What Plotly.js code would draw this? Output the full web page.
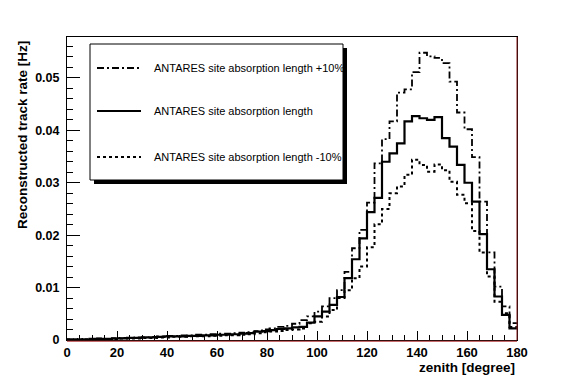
<!DOCTYPE html>
<html>
<head>
<meta charset="utf-8">
<script src="https://cdn.plot.ly/plotly-3.0.1.min.js"></script>
<style>html,body{margin:0;padding:0;background:#fff;}#chart{width:564px;height:377px;}</style>
</head>
<body>
<div id="chart"></div>
<script>
// Histogram binning: 60 bins of 3 degrees over zenith 0..180
const binWidth = 3;
const nBins = 60;

const seriesNames = [
  "ANTARES site absorption length +10%",
  "ANTARES site absorption length",
  "ANTARES site absorption length -10%"
];

// Reconstructed track rate [Hz] per 3-degree zenith bin
const ratePlus10 = [
  0.0001,0.0002,0.0001,0.0002,0.0003,0.0002,0.0003,0.0004,0.0004,0.0005,0.0005,0.0006,
  0.0007,0.0008,0.0008,0.0009,0.0009,0.0010,0.0010,0.0011,0.0012,0.0012,0.0013,0.0014,
  0.0015,0.0017,0.0020,0.0022,0.0025,0.0027,0.0031,
  0.0038,0.0045,0.0054,0.0064,0.0080,0.0095,0.0130,0.0175,0.0210,0.0262,0.0337,0.0383,
  0.0417,0.0472,0.0478,0.0511,0.0548,0.0541,0.0538,0.0528,0.0493,0.0434,0.0402,0.0349,
  0.0264,0.0167,0.0102,0.0064,0.0032
];
const rateNominal = [
  0.0001,0.0001,0.0001,0.0002,0.0002,0.0002,0.0003,0.0003,0.0004,0.0004,0.0005,0.0005,
  0.0006,0.0007,0.0007,0.0007,0.0008,0.0008,0.0009,0.0009,0.0010,0.0010,0.0011,0.0012,
  0.0013,0.0016,0.0017,0.0019,0.0021,0.0022,0.0024,
  0.0025,0.0033,0.0045,0.0054,0.0067,0.0082,0.0118,0.0154,0.0194,0.0244,0.0271,0.0340,
  0.0356,0.0375,0.0417,0.0427,0.0423,0.0420,0.0425,0.0385,0.0369,0.0334,0.0300,0.0264,
  0.0202,0.0135,0.0083,0.0048,0.0022
];
const rateMinus10 = [
  0.0001,0.0001,0.0001,0.0001,0.0002,0.0002,0.0002,0.0003,0.0003,0.0003,0.0004,0.0004,
  0.0005,0.0005,0.0006,0.0006,0.0007,0.0007,0.0007,0.0008,0.0008,0.0009,0.0009,0.0010,
  0.0011,0.0013,0.0015,0.0016,0.0017,0.0019,0.0020,
  0.0022,0.0032,0.0035,0.0045,0.0057,0.0080,0.0095,0.0118,0.0140,0.0177,0.0221,0.0250,
  0.0280,0.0293,0.0315,0.0344,0.0334,0.0321,0.0335,0.0324,0.0302,0.0277,0.0261,0.0208,
  0.0167,0.0121,0.0073,0.0051,0.0025
];

const xTickVals = [0,20,40,60,80,100,120,140,160,180];
const yTickVals = [0,0.01,0.02,0.03,0.04,0.05];
const yTickText = ["0","0.01","0.02","0.03","0.04","0.05"];

const edges = [];
for (let i = 0; i <= nBins; i++) edges.push(i * binWidth);

const styles = [
  {dash: "7px,3px,2px,3px", width: 1.8},
  {dash: "solid", width: 2.2},
  {dash: "3px,3px", width: 2}
];
const allRates = [ratePlus10, rateNominal, rateMinus10];

const traces = allRates.map((vals, k) => ({
  type: "scatter",
  mode: "lines",
  name: seriesNames[k],
  x: edges,
  y: vals.concat([vals[vals.length - 1]]),
  line: {shape: "hv", color: "#000", width: styles[k].width, dash: styles[k].dash},
  showlegend: false,
  hoverinfo: "skip"
}));

// Manual ROOT-style legend (paper coordinates)
const plotL = 67, plotR = 517, plotT = 37, plotB = 340;
const px2x = p => (p - plotL) / (plotR - plotL);
const py2y = p => (plotB - p) / (plotB - plotT);

const shapes = [
  // legend shadow
  {type: "rect", xref: "paper", yref: "paper", x0: px2x(94), x1: px2x(347), y0: py2y(184), y1: py2y(48),
   fillcolor: "#000", line: {width: 0}},
  // legend box
  {type: "rect", xref: "paper", yref: "paper", x0: px2x(90), x1: px2x(343), y0: py2y(180), y1: py2y(44),
   fillcolor: "#fff", line: {color: "#000", width: 1}},
  // right frame edge (dark red)
  {type: "line", xref: "paper", yref: "paper", x0: 1, x1: 1, y0: 0, y1: 1, line: {color: "#8a1a1a", width: 1}},
  // bottom red line below axis
  {type: "line", xref: "paper", yref: "paper", x0: 0, x1: 1, y0: -0.004, y1: -0.004, line: {color: "#b03030", width: 1}}
];
const legendY = [68, 111, 157];
const annotations = [];
legendY.forEach((py, k) => {
  shapes.push({type: "line", xref: "paper", yref: "paper", x0: px2x(97), x1: px2x(141), y0: py2y(py), y1: py2y(py),
    line: {color: "#000", width: styles[k].width, dash: styles[k].dash}});
  annotations.push({xref: "paper", yref: "paper", x: px2x(152), y: py2y(py), xanchor: "left", yanchor: "middle",
    text: seriesNames[k], showarrow: false, font: {family: "Liberation Sans, Arial, sans-serif", size: 11, color: "#000"}});
});
// axis titles (ROOT style: right / top aligned)
annotations.push({xref: "paper", yref: "paper", x: 1, y: py2y(367), xanchor: "right", yanchor: "middle",
  text: "<b>zenith [degree]</b>", showarrow: false, font: {family: "Liberation Sans, Arial, sans-serif", size: 13.5, color: "#000"}});
annotations.push({xref: "paper", yref: "paper", x: px2x(22), y: py2y(39), xanchor: "center", yanchor: "top", textangle: -90,
  text: "<b>Reconstructed track rate [Hz]</b>", showarrow: false, font: {family: "Liberation Sans, Arial, sans-serif", size: 13.5, color: "#000"}});

const tickFont = {family: "Liberation Sans, Arial, sans-serif", size: 13, color: "#000", weight: "bold"};

const layout = {
  width: 564, height: 377,
  margin: {l: plotL, r: 564 - plotR, t: plotT, b: 377 - plotB, pad: 0},
  paper_bgcolor: "#fff", plot_bgcolor: "#fff",
  showlegend: false,
  xaxis: {
    range: [0, 180], tickmode: "array", tickvals: xTickVals, ticktext: xTickVals.map(String),
    ticks: "inside", ticklen: 9, tickwidth: 1, tickcolor: "#000",
    minor: {dtick: 5, tick0: 0, ticks: "inside", ticklen: 5, tickcolor: "#000", tickwidth: 1},
    showline: true, linecolor: "#000", linewidth: 1, mirror: true,
    showgrid: false, zeroline: false, tickfont: tickFont, ticklabelstandoff: 0
  },
  yaxis: {
    range: [0, 0.0578], tickmode: "array", tickvals: yTickVals, ticktext: yTickText,
    ticks: "inside", ticklen: 13, tickwidth: 1, tickcolor: "#000",
    minor: {dtick: 0.002, tick0: 0, ticks: "inside", ticklen: 6, tickcolor: "#000", tickwidth: 1},
    showline: true, linecolor: "#000", linewidth: 1, mirror: true,
    showgrid: false, zeroline: false, tickfont: Object.assign({}, tickFont, {size: 12.5}), ticklabelstandoff: 4
  },
  shapes: shapes,
  annotations: annotations
};

Plotly.newPlot("chart", traces, layout, {staticPlot: true, displayModeBar: false});
</script>
</body>
</html>
